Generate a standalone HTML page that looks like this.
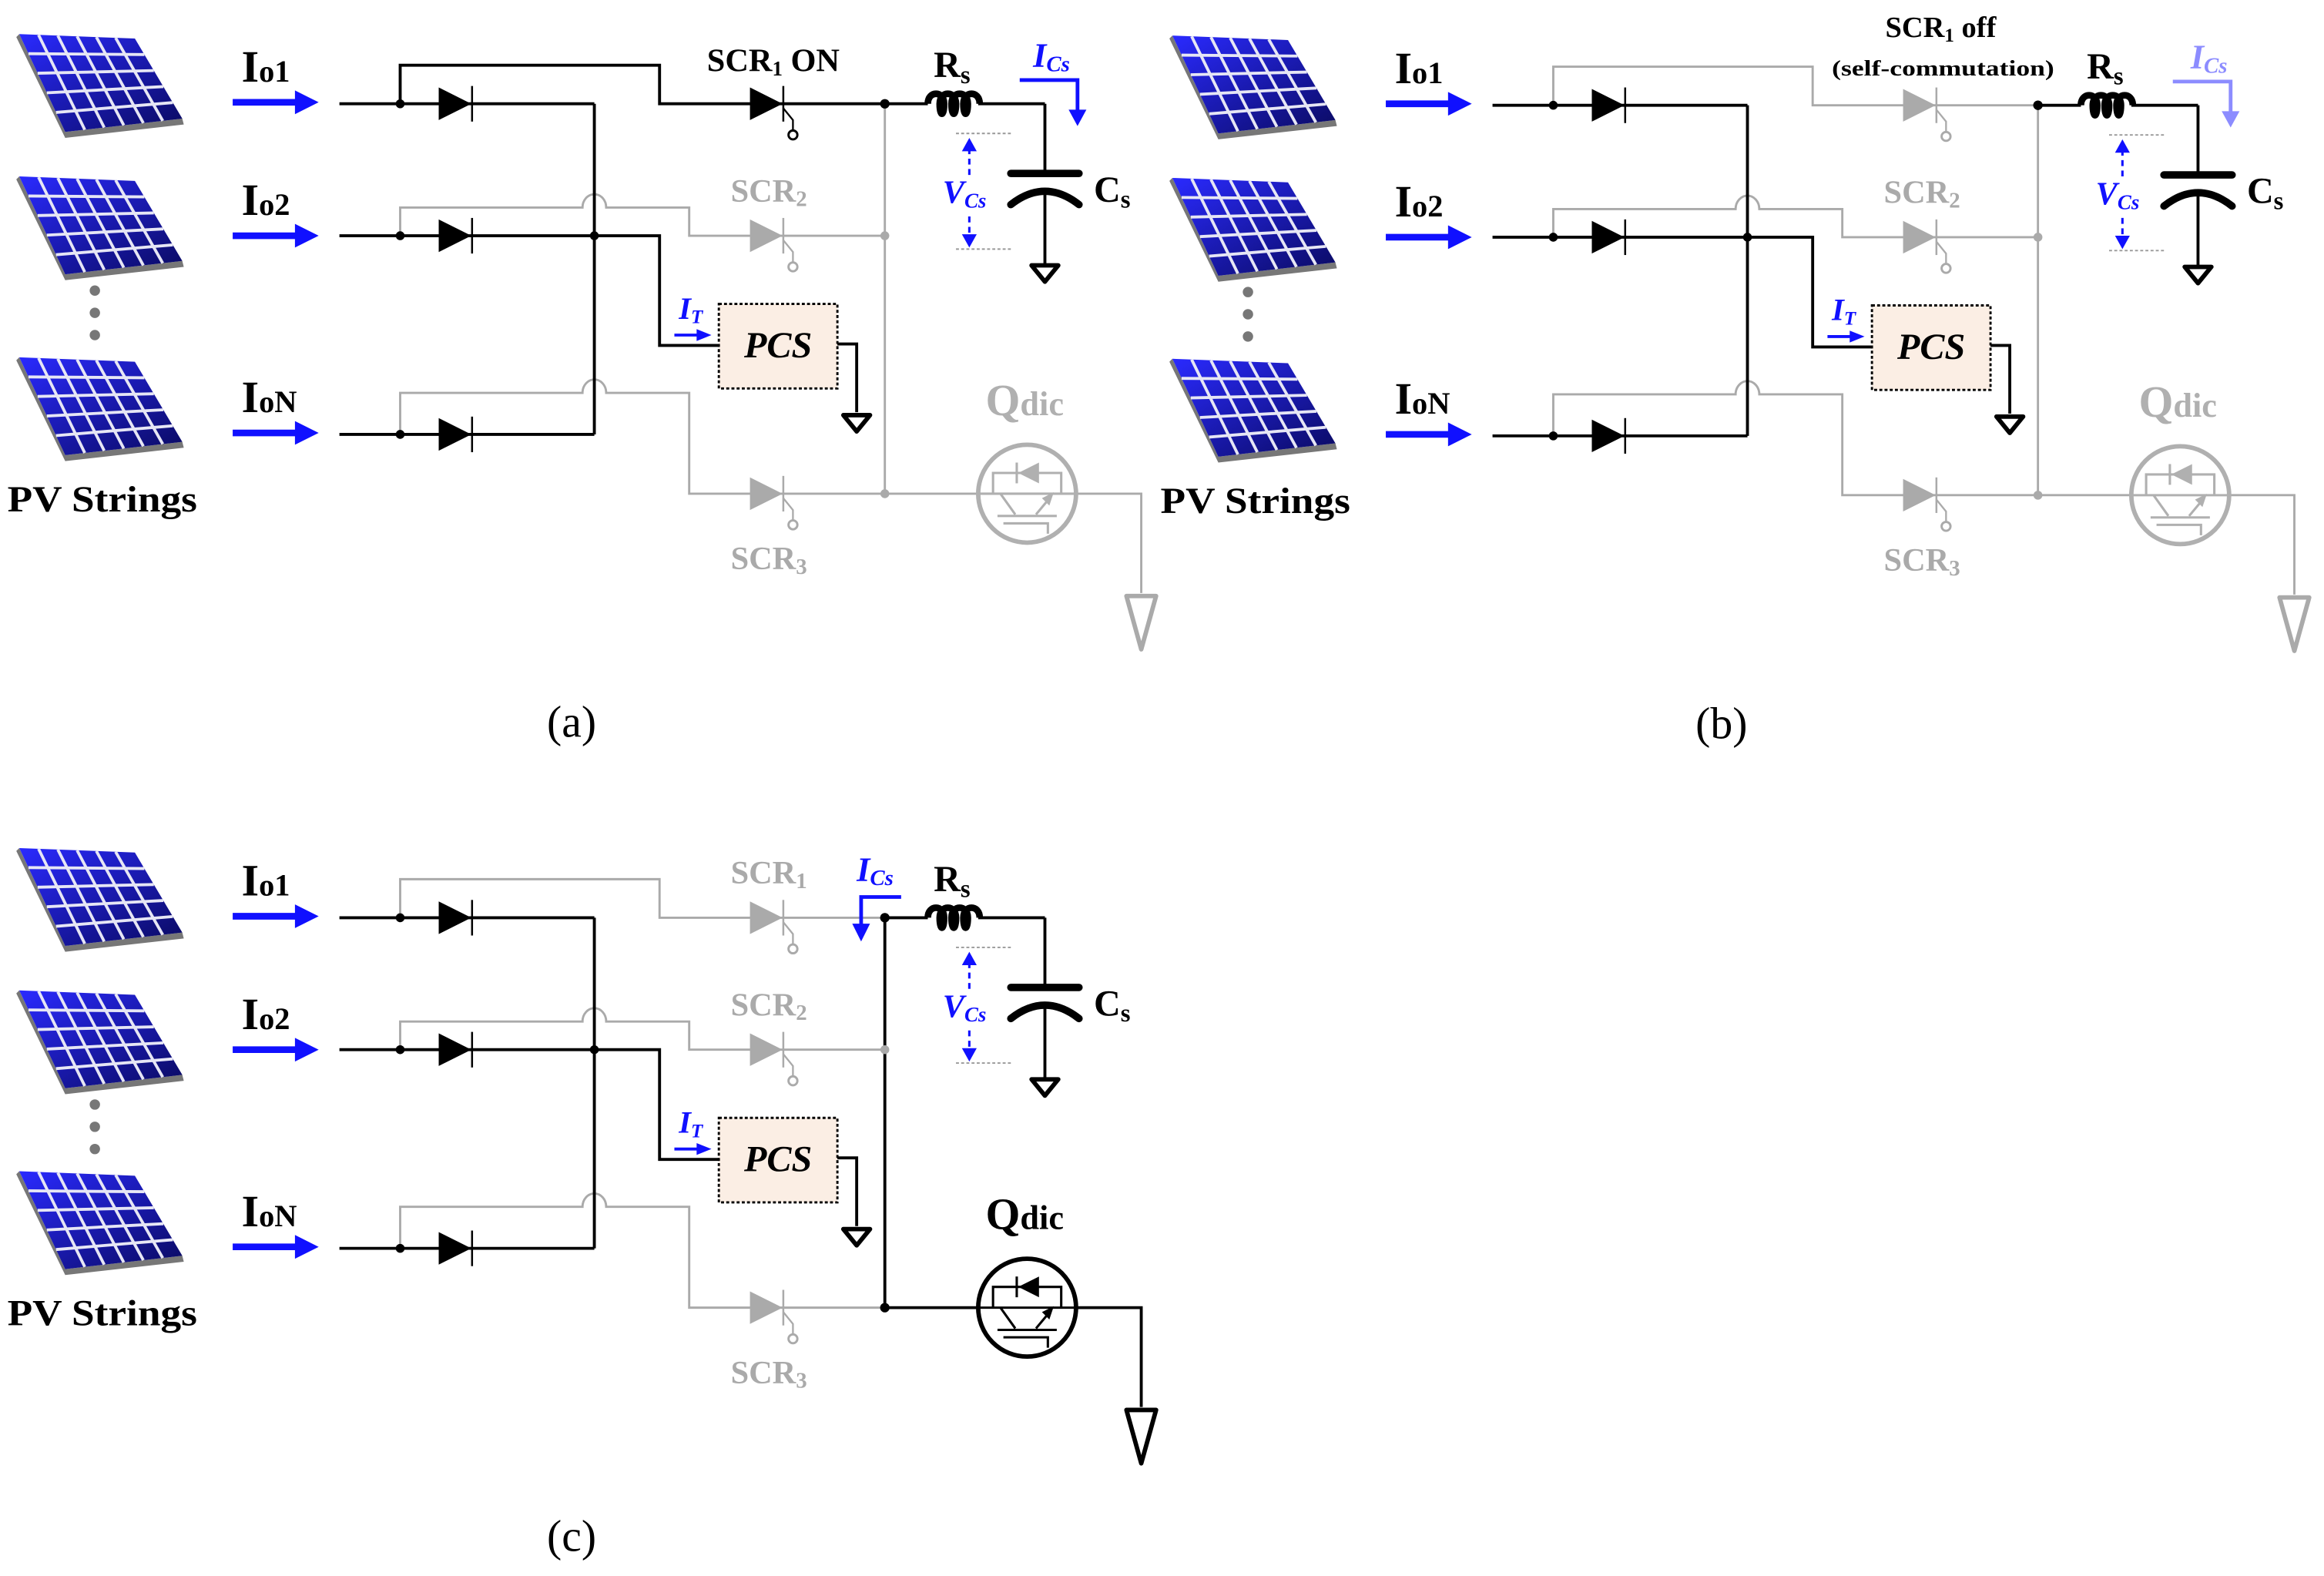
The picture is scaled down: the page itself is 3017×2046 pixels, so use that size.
<!DOCTYPE html>
<html><head><meta charset="utf-8"><style>
html,body{margin:0;padding:0;background:#fff}
svg{display:block}
text{font-family:"Liberation Serif",serif}
</style></head><body>
<svg width="3017" height="2046" viewBox="0 0 1568 1063" preserveAspectRatio="none" xmlns="http://www.w3.org/2000/svg">
<defs>
<linearGradient id="pg" x1="0" y1="0" x2="1" y2="1">
<stop offset="0" stop-color="#2a2aff"/><stop offset="1" stop-color="#0a0a60"/></linearGradient>
<symbol id="pv" overflow="visible">
<polygon points="11,25 44,93 124,84 123,80 44,89 13,23" fill="#777"/>
<polygon points="13,23 91,26 123,80 44,89" fill="url(#pg)"/>
<g stroke="#e6e6f5" stroke-width="2" fill="none">
<line x1="26" y1="23.5" x2="57.2" y2="87.5"/><line x1="39" y1="24" x2="70.3" y2="86"/>
<line x1="52" y1="24.5" x2="83.5" y2="84.5"/><line x1="65" y1="25" x2="96.7" y2="83"/>
<line x1="78" y1="25.5" x2="109.8" y2="81.5"/>
<line x1="19.2" y1="36.2" x2="97.4" y2="36.8"/><line x1="25.4" y1="49.4" x2="103.8" y2="47.6"/>
<line x1="31.6" y1="62.6" x2="110.2" y2="58.4"/><line x1="37.8" y1="75.8" x2="116.6" y2="69.2"/>
</g>
</symbol>
<symbol id="dio" overflow="visible">
<polygon points="-12,-11 -12,11 10,0" fill="currentColor"/>
<line x1="10.5" y1="-12" x2="10.5" y2="12" stroke="currentColor" stroke-width="1.3"/>
</symbol>
<symbol id="scr" overflow="visible">
<polygon points="-12,-11 -12,11 10,0" fill="currentColor"/>
<line x1="10.5" y1="-12" x2="10.5" y2="12" stroke="currentColor" stroke-width="1.3"/>
<polyline points="10.5,3 17,11 17,18" fill="none" stroke="currentColor" stroke-width="1.2"/>
<circle cx="17" cy="21" r="3" fill="#fff" stroke="currentColor" stroke-width="1.5"/>
</symbol>
<symbol id="gnd" overflow="visible">
<polygon points="-9,0 9,0 0,11" fill="none" stroke="currentColor" stroke-width="3" stroke-linejoin="round"/>
</symbol>
<symbol id="q" overflow="visible">
<circle r="33" fill="#fff" stroke="currentColor" stroke-width="3"/>
<line x1="-33" y1="0" x2="33" y2="0" stroke="currentColor" stroke-width="1.6"/>
<polyline points="-23,0 -23,-14 23,-14 23,0" fill="none" stroke="currentColor" stroke-width="1.6"/>
<polygon points="8,-21 8,-7 -6,-14" fill="currentColor"/>
<line x1="-7" y1="-21" x2="-7" y2="-7" stroke="currentColor" stroke-width="1.6"/>
<line x1="-18" y1="0" x2="-8" y2="14" stroke="currentColor" stroke-width="1.6"/>
<line x1="6" y1="14" x2="16" y2="2" stroke="currentColor" stroke-width="1.6"/>
<polygon points="18,-1 10,3 15,8" fill="currentColor"/>
<line x1="-20" y1="15" x2="20" y2="15" stroke="currentColor" stroke-width="1.6"/>
<polyline points="-16,20 14,20 14,27" fill="none" stroke="currentColor" stroke-width="1.6"/>
</symbol>
<symbol id="rs" overflow="visible">
<path d="M0,0 c0,-9 11,-9 11,0 c0,9 -3,9 -3,0 c0,-9 11,-9 11,0 c0,9 -3,9 -3,0 c0,-9 11,-9 11,0 c0,9 -3,9 -3,0 c0,-9 11,-9 11,0" fill="none" stroke="currentColor" stroke-width="4.5"/>
</symbol>
<symbol id="blarrow" overflow="visible">
<line x1="0" y1="0" x2="46" y2="0" stroke="#1010ff" stroke-width="4.5"/>
<polygon points="42,-8 58,0 42,8" fill="#1010ff"/>
</symbol>
<symbol id="pvs" overflow="visible">
<use href="#pv"/><use href="#pv" y="96"/><use href="#pv" y="218"/>
<circle cx="64" cy="196" r="3.5" fill="#777"/><circle cx="64" cy="211" r="3.5" fill="#777"/><circle cx="64" cy="226" r="3.5" fill="#777"/>
<text x="5" y="345" font-size="25" font-weight="bold" textLength="128" lengthAdjust="spacingAndGlyphs">PV Strings</text>
<text x="163" y="55" font-size="30" font-weight="bold">I<tspan font-size="21">o1</tspan></text>
<text x="163" y="145" font-size="30" font-weight="bold">I<tspan font-size="21">o2</tspan></text>
<text x="163" y="278" font-size="30" font-weight="bold">I<tspan font-size="21">oN</tspan></text>
<use href="#blarrow" x="157" y="69"/><use href="#blarrow" x="157" y="159"/><use href="#blarrow" x="157" y="292"/>
</symbol>
<symbol id="cap" overflow="visible">
<line x1="705" y1="70" x2="705" y2="117" stroke="#000" stroke-width="2"/>
<line x1="682" y1="117" x2="728" y2="117" stroke="#000" stroke-width="5" stroke-linecap="round"/>
<path d="M682,138 Q705,120 728,138" fill="none" stroke="#000" stroke-width="5" stroke-linecap="round"/>
<line x1="705" y1="130" x2="705" y2="178" stroke="#000" stroke-width="2"/>
<use href="#gnd" x="705" y="179" color="#000"/>
<text x="738" y="136" font-size="25" font-weight="bold">C<tspan font-size="17" dy="4">s</tspan></text>
<line x1="645" y1="90" x2="682" y2="90" stroke="#999" stroke-width="1" stroke-dasharray="2,1.5"/>
<line x1="645" y1="168" x2="682" y2="168" stroke="#999" stroke-width="1" stroke-dasharray="2,1.5"/>
<line x1="654" y1="100" x2="654" y2="120" stroke="#1010ff" stroke-width="1.6" stroke-dasharray="4,3"/>
<line x1="654" y1="146" x2="654" y2="160" stroke="#1010ff" stroke-width="1.6" stroke-dasharray="4,3"/>
<polygon points="649,102 659,102 654,93" fill="#1010ff"/>
<polygon points="649,158 659,158 654,167" fill="#1010ff"/>
<text x="636" y="137" font-size="22" font-style="italic" font-weight="bold" fill="#1010ff">V<tspan font-size="14" dy="3">Cs</tspan></text>
<text x="630" y="52" font-size="25" font-weight="bold">R<tspan font-size="17" dy="4">s</tspan></text>
</symbol>
<symbol id="pcs" overflow="visible">
<rect x="485" y="205" width="80" height="57" fill="#fbeee4" stroke="#000" stroke-width="1.5" stroke-dasharray="2,1.5"/>
<text x="525" y="241" font-size="25" font-weight="bold" font-style="italic" text-anchor="middle">PCS</text>
<polyline points="565,232 578,232 578,278" fill="none" stroke="#000" stroke-width="2"/>
<use href="#gnd" x="578" y="280" color="#000"/>
<text x="458" y="215" font-size="21" font-style="italic" font-weight="bold" fill="#1010ff">I<tspan font-size="13" dy="3">T</tspan></text>
<line x1="455" y1="226" x2="472" y2="226" stroke="#1010ff" stroke-width="2"/>
<polygon points="470,222 480,226 470,230" fill="#1010ff"/>
</symbol>
</defs>

<!-- ============ PANEL A ============ -->
<g>
<use href="#pvs"/>
<g fill="none" stroke-width="1.5" stroke="#aaa">
<path d="M270,159 V140 H393 a8,9 0 0 1 16,0 H465 V159 H597"/>
<path d="M270,293 V265 H393 a8,9 0 0 1 16,0 H465 V333 H770 V400"/>
<path d="M597,70 V333"/>
</g>
<g fill="none" stroke-width="2" stroke="#000">
<path d="M229,70 H401 M229,159 H445 V233 H485 M229,293 H401 M401,70 V293"/>
<path d="M270,70 V44 H445 V70 H626 M660,70 H705"/>
</g>
<use href="#rs" x="626" y="70" color="#000"/>
<use href="#dio" x="308" y="70" color="#000"/><use href="#dio" x="308" y="159" color="#000"/><use href="#dio" x="308" y="293" color="#000"/>
<use href="#scr" x="518" y="70" color="#000"/><use href="#scr" x="518" y="159" color="#aaa"/><use href="#scr" x="518" y="333" color="#aaa"/>
<circle cx="270" cy="70" r="3" /><circle cx="270" cy="159" r="3"/><circle cx="270" cy="293" r="3"/><circle cx="401" cy="159" r="3"/>
<circle cx="597" cy="70" r="3.2"/><circle cx="597" cy="159" r="3" fill="#aaa"/><circle cx="597" cy="333" r="3" fill="#aaa"/>
<use href="#cap"/>
<use href="#pcs"/>
<use href="#q" x="693" y="333" color="#b0b0b0"/>
<polygon points="760,402 780,402 770,438" fill="none" stroke="#aaa" stroke-width="3" stroke-linejoin="round"/>
<text x="665" y="280" font-size="30" font-weight="bold" fill="#b0b0b0">Q<tspan font-size="23">dic</tspan></text>
<text x="477" y="48" font-size="22" font-weight="bold">SCR<tspan font-size="14" dy="3">1</tspan><tspan dy="-3"> ON</tspan></text>
<text x="493" y="136" font-size="22" font-weight="bold" fill="#aaa">SCR<tspan font-size="15" dy="3">2</tspan></text>
<text x="493" y="384" font-size="22" font-weight="bold" fill="#aaa">SCR<tspan font-size="15" dy="3">3</tspan></text>
<text x="697" y="45" font-size="23" font-style="italic" font-weight="bold" fill="#1010ff">I<tspan font-size="15" dy="3">Cs</tspan></text>
<polyline points="688,54 727,54 727,78" fill="none" stroke="#1010ff" stroke-width="2.5"/>
<polygon points="721,74 733,74 727,85" fill="#1010ff"/>
<text x="369" y="497" font-size="30">(a)</text>
</g>

<!-- ============ PANEL B ============ -->
<g transform="translate(778,1)">
<use href="#pvs"/>
<g fill="none" stroke-width="1.5" stroke="#aaa">
<path d="M270,70 V44 H445 V70 H597"/>
<path d="M270,159 V140 H393 a8,9 0 0 1 16,0 H465 V159 H597"/>
<path d="M270,293 V265 H393 a8,9 0 0 1 16,0 H465 V333 H770 V400"/>
<path d="M597,70 V333"/>
</g>
<g fill="none" stroke-width="2" stroke="#000">
<path d="M229,70 H401 M229,159 H445 V233 H485 M229,293 H401 M401,70 V293"/>
<path d="M597,70 H626 M660,70 H705"/>
</g>
<use href="#rs" x="626" y="70" color="#000"/>
<use href="#dio" x="308" y="70" color="#000"/><use href="#dio" x="308" y="159" color="#000"/><use href="#dio" x="308" y="293" color="#000"/>
<use href="#scr" x="518" y="70" color="#aaa"/><use href="#scr" x="518" y="159" color="#aaa"/><use href="#scr" x="518" y="333" color="#aaa"/>
<circle cx="270" cy="70" r="3" /><circle cx="270" cy="159" r="3"/><circle cx="270" cy="293" r="3"/><circle cx="401" cy="159" r="3"/>
<circle cx="597" cy="70" r="3.2"/><circle cx="597" cy="159" r="3" fill="#aaa"/><circle cx="597" cy="333" r="3" fill="#aaa"/>
<use href="#cap"/>
<use href="#pcs"/>
<use href="#q" x="693" y="333" color="#b0b0b0"/>
<polygon points="760,402 780,402 770,438" fill="none" stroke="#aaa" stroke-width="3" stroke-linejoin="round"/>
<text x="665" y="280" font-size="30" font-weight="bold" fill="#b0b0b0">Q<tspan font-size="23">dic</tspan></text>
<text x="494" y="24" font-size="20" font-weight="bold">SCR<tspan font-size="13" dy="3">1</tspan><tspan dy="-3"> off</tspan></text>
<text x="458" y="50" font-size="15" font-weight="bold" textLength="150" lengthAdjust="spacingAndGlyphs">(self-commutation)</text>
<text x="493" y="136" font-size="22" font-weight="bold" fill="#aaa">SCR<tspan font-size="15" dy="3">2</tspan></text>
<text x="493" y="384" font-size="22" font-weight="bold" fill="#aaa">SCR<tspan font-size="15" dy="3">3</tspan></text>
<text x="700" y="45" font-size="23" font-style="italic" font-weight="bold" fill="#8c8cff">I<tspan font-size="15" dy="3">Cs</tspan></text>
<polyline points="688,54 727,54 727,78" fill="none" stroke="#8c8cff" stroke-width="2.5"/>
<polygon points="721,74 733,74 727,85" fill="#8c8cff"/>
<text x="366" y="497" font-size="30">(b)</text>
</g>

<!-- ============ PANEL C ============ -->
<g transform="translate(0,549)">
<use href="#pvs"/>
<g fill="none" stroke-width="1.5" stroke="#aaa">
<path d="M270,70 V44 H445 V70 H597"/>
<path d="M270,159 V140 H393 a8,9 0 0 1 16,0 H465 V159 H597"/>
<path d="M270,293 V265 H393 a8,9 0 0 1 16,0 H465 V333 H597"/>
</g>
<g fill="none" stroke-width="2" stroke="#000">
<path d="M229,70 H401 M229,159 H445 V233 H485 M229,293 H401 M401,70 V293"/>
<path d="M597,70 H626 M660,70 H705 M597,70 V333 H770 V400"/>
</g>
<use href="#rs" x="626" y="70" color="#000"/>
<use href="#dio" x="308" y="70" color="#000"/><use href="#dio" x="308" y="159" color="#000"/><use href="#dio" x="308" y="293" color="#000"/>
<use href="#scr" x="518" y="70" color="#aaa"/><use href="#scr" x="518" y="159" color="#aaa"/><use href="#scr" x="518" y="333" color="#aaa"/>
<circle cx="270" cy="70" r="3" /><circle cx="270" cy="159" r="3"/><circle cx="270" cy="293" r="3"/><circle cx="401" cy="159" r="3"/>
<circle cx="597" cy="70" r="3.2"/><circle cx="597" cy="159" r="3" fill="#aaa"/><circle cx="597" cy="333" r="3.2"/>
<use href="#cap"/>
<use href="#pcs"/>
<use href="#q" x="693" y="333" color="#000"/>
<polygon points="760,402 780,402 770,438" fill="none" stroke="#000" stroke-width="3" stroke-linejoin="round"/>
<text x="665" y="280" font-size="30" font-weight="bold">Q<tspan font-size="23">dic</tspan></text>
<text x="493" y="47" font-size="22" font-weight="bold" fill="#aaa">SCR<tspan font-size="15" dy="3">1</tspan></text>
<text x="493" y="136" font-size="22" font-weight="bold" fill="#aaa">SCR<tspan font-size="15" dy="3">2</tspan></text>
<text x="493" y="384" font-size="22" font-weight="bold" fill="#aaa">SCR<tspan font-size="15" dy="3">3</tspan></text>
<text x="578" y="45" font-size="23" font-style="italic" font-weight="bold" fill="#1010ff">I<tspan font-size="15" dy="3">Cs</tspan></text>
<polyline points="608,56 581,56 581,78" fill="none" stroke="#1010ff" stroke-width="2.5"/>
<polygon points="575,74 587,74 581,86" fill="#1010ff"/>
<text x="369" y="497" font-size="30">(c)</text>
</g>
</svg>
</body></html>
